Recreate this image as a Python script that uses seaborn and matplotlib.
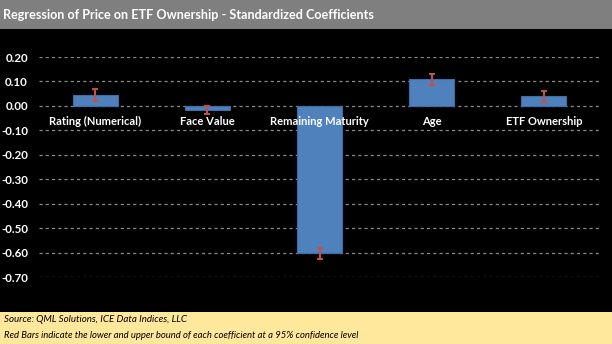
import matplotlib
matplotlib.use("Agg")
import matplotlib.pyplot as plt
import seaborn as sns
import pandas as pd

# Standardized regression coefficients with 95% confidence bounds
variables = ["Rating (Numerical)", "Face Value", "Remaining Maturity", "Age", "ETF Ownership"]
coefficients = [0.045, -0.015, -0.600, 0.110, 0.040]
lower_bound = [0.020, -0.035, -0.625, 0.086, 0.017]
upper_bound = [0.068, 0.000, -0.580, 0.130, 0.062]
y_ticks = [0.20, 0.10, 0.00, -0.10, -0.20, -0.30, -0.40, -0.50, -0.60, -0.70]

title_text = "Regression of Price on ETF Ownership - Standardized Coefficients"
source_text = "Source: QML Solutions, ICE Data Indices, LLC"
note_text = "Red Bars indicate the lower and upper bound of each coefficient at a 95% confidence level"

df = pd.DataFrame({"variable": variables, "coef": coefficients,
                   "lo": lower_bound, "hi": upper_bound})

sns.set_theme(style="dark")
plt.rcParams["font.family"] = ["Lato", "DejaVu Sans"]

fig = plt.figure(figsize=(6.12, 3.44), dpi=100)
fig.patch.set_facecolor("black")

# Title band and footer band
fig.patches.append(plt.Rectangle((0, 1 - 29 / 344), 1, 29 / 344, transform=fig.transFigure,
                                 facecolor="#7f7f7f", edgecolor="none", zorder=0))
fig.patches.append(plt.Rectangle((0, 0), 1, 32 / 344, transform=fig.transFigure,
                                 facecolor="#ffe89c", edgecolor="none", zorder=0))
fig.text(3 / 612, 1 - 15 / 344, title_text, color="white", fontsize=9.1,
         fontweight="bold", va="center", ha="left")
fig.text(4 / 612, 1 - 320 / 344, source_text, color="black", fontsize=7.0,
         style="italic", va="center", ha="left")
fig.text(4 / 612, 1 - 336 / 344, note_text, color="black", fontsize=6.8,
         style="italic", va="center", ha="left")

ax = fig.add_axes([39 / 612, 1 - 277 / 344, 561 / 612, 220 / 344])
ax.set_facecolor("black")

sns.barplot(data=df, x="variable", y="coef", ax=ax, color="#4f81bd",
            edgecolor="#3d6ea8", linewidth=0.8, width=0.4, saturation=1, zorder=3)

xs = list(range(len(variables)))
ax.errorbar(xs, df["coef"],
            yerr=[df["coef"] - df["lo"], df["hi"] - df["coef"]],
            fmt="none", ecolor="#c0504d", elinewidth=1.5, capsize=2.5,
            capthick=1.5, zorder=4)

ax.set_ylim(-0.70, 0.20)
ax.set_xlim(-0.5, len(variables) - 0.5)
ax.set_yticks(y_ticks)
ax.set_yticklabels([f"{v:.2f}" for v in y_ticks], color="white", fontsize=8.3,
                   fontweight="bold")
ax.yaxis.grid(True, color="#8a8a8a", linestyle=(0, (2.5, 2.5)), linewidth=0.9)
ax.xaxis.grid(False)
ax.set_axisbelow(True)

# Category labels sit just below the zero line, drawn over the bars
ax.spines["bottom"].set_position(("data", 0))
for s in ax.spines.values():
    s.set_visible(False)
ax.xaxis.set_zorder(5)
ax.tick_params(axis="x", length=0, pad=7, colors="white")
ax.tick_params(axis="y", length=0, pad=8)
ax.set_xticks(xs)
ax.set_xticklabels(variables, color="white", fontsize=8.0, fontweight="bold")
ax.set_xlabel("")
ax.set_ylabel("")

fig.savefig("out.png", dpi=100, facecolor=fig.get_facecolor())
